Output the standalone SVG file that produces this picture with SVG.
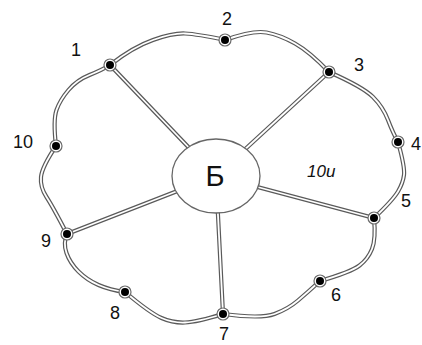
<svg xmlns="http://www.w3.org/2000/svg" width="422" height="345" viewBox="0 0 422 345">
<style>
.lo{fill:none;stroke:#5a5a5a;stroke-width:4.2;stroke-linejoin:round;stroke-linecap:round}
.li{fill:none;stroke:#fff;stroke-width:1.8;stroke-linejoin:round;stroke-linecap:round}
.ring{fill:#fff;stroke:#6a6a6a;stroke-width:1.2}
.dot{fill:#000}
.lbl{font-family:"Liberation Sans",Arial,sans-serif;font-size:18px;fill:#111;text-anchor:middle}
</style>
<defs>
<path id="outline" d="M110,65 Q133,47 153,40 Q173,33 185,33.5 Q197,34 225,40 Q253,30 266.5,32.5 Q280,35 295,43.5 Q310,52 329,72 Q363,87 373,97 Q383,107 388,120 Q393,133 398,142 Q405,167 404,175 Q403,183 398,191.5 Q393,200 374,218 Q376,239 372,249 Q368,259 359.5,265.5 Q351,272 320,281 Q308,292 298,300.5 Q288,309 274.5,314 Q261,319 223,314 Q197,322 185,322.5 Q173,323 161.5,318 Q150,313 125,292 Q110,290 98.5,285 Q87,280 78.5,271.5 Q70,263 66.5,253 Q63,243 67,234 Q53,207 46.5,197 Q40,187 41,177 Q42,167 56,146 Q53,120 56.5,110 Q60,100 68.5,90 Q77,80 89.5,75 Q102,70 110,65 Z"/>
<path id="spokes" d="M110,65 L216,176 M329,72 L216,176 M374,218 L216,176 M223,314 L216,176 M67,234 L216,176"/>
</defs>
<g id="connectors">
<use href="#outline" class="lo"/>
<use href="#spokes" class="lo"/>
<use href="#outline" class="li"/>
<use href="#spokes" class="li"/>
</g>
<g id="node-B">
<ellipse cx="216" cy="176" rx="44" ry="37" fill="#fff" stroke="#666" stroke-width="1.3"/>
<text x="215" y="186" class="lbl" style="font-size:29px">Б</text>
</g>
<g id="node-1"><circle cx="110" cy="65" r="6" class="ring"/><circle cx="110" cy="65" r="4" class="dot"/><text x="76" y="56" class="lbl">1</text></g>
<g id="node-2"><circle cx="225" cy="40" r="6" class="ring"/><circle cx="225" cy="40" r="4" class="dot"/><text x="227" y="25" class="lbl">2</text></g>
<g id="node-3"><circle cx="329" cy="72" r="6" class="ring"/><circle cx="329" cy="72" r="4" class="dot"/><text x="359" y="71" class="lbl">3</text></g>
<g id="node-4"><circle cx="398" cy="142" r="6" class="ring"/><circle cx="398" cy="142" r="4" class="dot"/><text x="411" y="150" class="lbl" style="text-anchor:start">4</text></g>
<g id="node-5"><circle cx="374" cy="218" r="6" class="ring"/><circle cx="374" cy="218" r="4" class="dot"/><text x="406" y="207" class="lbl">5</text></g>
<g id="node-6"><circle cx="320" cy="281" r="6" class="ring"/><circle cx="320" cy="281" r="4" class="dot"/><text x="336" y="301" class="lbl">6</text></g>
<g id="node-7"><circle cx="223" cy="314" r="6" class="ring"/><circle cx="223" cy="314" r="4" class="dot"/><text x="224" y="340" class="lbl">7</text></g>
<g id="node-8"><circle cx="125" cy="292" r="6" class="ring"/><circle cx="125" cy="292" r="4" class="dot"/><text x="115" y="319" class="lbl">8</text></g>
<g id="node-9"><circle cx="67" cy="234" r="6" class="ring"/><circle cx="67" cy="234" r="4" class="dot"/><text x="46" y="247" class="lbl">9</text></g>
<g id="node-10"><circle cx="56" cy="146" r="6" class="ring"/><circle cx="56" cy="146" r="4" class="dot"/><text x="23" y="148" class="lbl">10</text></g>
<text x="307" y="177" class="lbl" style="text-anchor:start;font-style:italic;font-size:17px">10и</text>
</svg>
